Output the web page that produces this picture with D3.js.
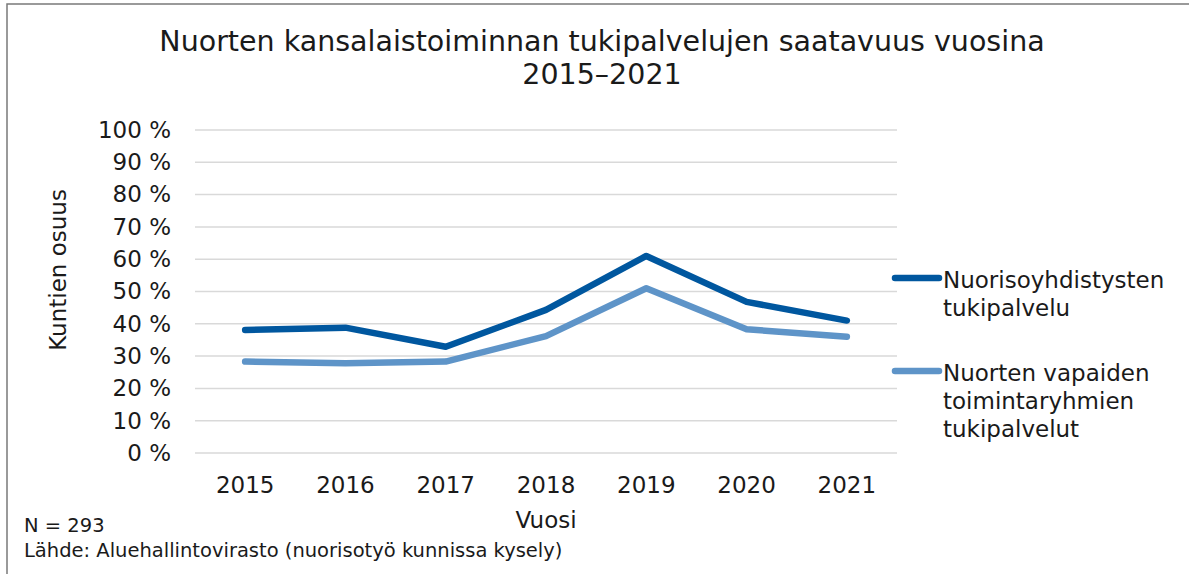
<!DOCTYPE html>
<html>
<head>
<meta charset="utf-8">
<script src="https://cdn.jsdelivr.net/npm/d3@7"></script>
<style>
  body { margin: 0; background: #fff; }
  svg { display: block; }
</style>
</head>
<body>
<div id="frame"></div>
<script>
// data
let years = ['2015', '2016', '2017', '2018', '2019', '2020', '2021'];
let yhdistykset = [38.1, 38.8, 32.9, 44.3, 61.0, 46.8, 41.0];
let ryhmat = [28.3, 27.8, 28.3, 36.2, 51.0, 38.3, 36.0];
let yTicks = [0, 10, 20, 30, 40, 50, 60, 70, 80, 90, 100];
let seriesNames = [['Nuorisoyhdistysten', 'tukipalvelu'], ['Nuorten vapaiden', 'toimintaryhmien', 'tukipalvelut']];
let colors = ['#00579f', '#5e94c8'];

let W = 1189, H = 574;
let margin = { top: 130, left: 195, right: 292, bottom: 121 };
let width = W - margin.left - margin.right,
    height = H - margin.top - margin.bottom;
let font = 'DejaVu Sans, Verdana, sans-serif';

let svg = d3.select('#frame').append('svg')
    .attr('width', W).attr('height', H);

// frame of the chart area (only top and left edges show)
svg.append('path')
    .attr('d', `M7,${H} V4 H${W}`)
    .attr('fill', 'none')
    .attr('stroke', '#7a7a7a')
    .attr('stroke-width', 1.5);

let g = svg.append('g')
    .attr('transform', 'translate(' + margin.left + ',' + margin.top + ')');

let x = d3.scaleBand().domain(years).range([0, width]);
let y = d3.scaleLinear().domain([0, 100]).range([height, 0]);

// gridlines
g.append('g')
    .selectAll('line')
    .data(yTicks)
    .enter()
    .append('line')
    .attr('x1', 0).attr('x2', width)
    .attr('y1', d => y(d)).attr('y2', d => y(d))
    .attr('stroke', '#d9d9d9')
    .attr('stroke-width', 1.5);

// y axis labels
let yAxis = g.append('g')
    .attr('transform', 'translate(-24,0)')
    .call(d3.axisLeft(y).tickValues(yTicks).tickSize(0).tickPadding(0).tickFormat(d => d + ' %'));
yAxis.select('.domain').remove();
yAxis.selectAll('text')
    .attr('fill', '#1a1a1a')
    .style('font-family', font)
    .style('font-size', '23px');

// x axis labels
let xAxis = g.append('g')
    .attr('transform', 'translate(0,' + height + ')')
    .call(d3.axisBottom(x).tickSize(0).tickPadding(24));
xAxis.select('.domain').remove();
xAxis.selectAll('text')
    .attr('fill', '#1a1a1a')
    .style('font-family', font)
    .style('font-size', '23px');

let line = d3.line()
    .x((d, i) => x(years[i]) + x.bandwidth() / 2)
    .y(d => y(d));

[yhdistykset, ryhmat].forEach((vals, k) => {
    g.append('path')
        .datum(vals)
        .attr('d', line)
        .attr('fill', 'none')
        .attr('stroke', colors[k])
        .attr('stroke-width', 6.5)
        .attr('stroke-linecap', 'round')
        .attr('stroke-linejoin', 'round');
});

// title
let title = svg.append('text')
    .attr('text-anchor', 'middle')
    .attr('fill', '#1a1a1a')
    .style('font-family', font)
    .style('font-size', '28.5px');
title.append('tspan').attr('x', 602).attr('y', 51).text('Nuorten kansalaistoiminnan tukipalvelujen saatavuus vuosina');
title.append('tspan').attr('x', 602).attr('y', 84).text('2015–2021');

// axis titles
svg.append('text')
    .attr('transform', 'translate(66,270) rotate(-90)')
    .attr('text-anchor', 'middle')
    .attr('fill', '#1a1a1a')
    .style('font-family', font)
    .style('font-size', '23px')
    .text('Kuntien osuus');

svg.append('text')
    .attr('x', margin.left + width / 2)
    .attr('y', 528)
    .attr('text-anchor', 'middle')
    .attr('fill', '#1a1a1a')
    .style('font-family', font)
    .style('font-size', '23px')
    .text('Vuosi');

// legend
let legendY = [278, 371];
seriesNames.forEach((lines, k) => {
    let lg = svg.append('g').attr('transform', 'translate(893,' + legendY[k] + ')');
    lg.append('line')
        .attr('x1', 2).attr('x2', 46)
        .attr('stroke', colors[k])
        .attr('stroke-width', 6.5)
        .attr('stroke-linecap', 'round');
    let t = lg.append('text')
        .attr('fill', '#1a1a1a')
        .style('font-family', font)
        .style('font-size', '23px');
    lines.forEach((s, i) => {
        t.append('tspan').attr('x', 50).attr('y', 10 + i * 28).text(s);
    });
});

// footer
let foot = svg.append('text')
    .attr('fill', '#1a1a1a')
    .style('font-family', font)
    .style('font-size', '19.5px');
foot.append('tspan').attr('x', 24).attr('y', 532).text('N = 293');
foot.append('tspan').attr('x', 24).attr('y', 557).text('Lähde: Aluehallintovirasto (nuorisotyö kunnissa kysely)');
</script>
</body>
</html>
